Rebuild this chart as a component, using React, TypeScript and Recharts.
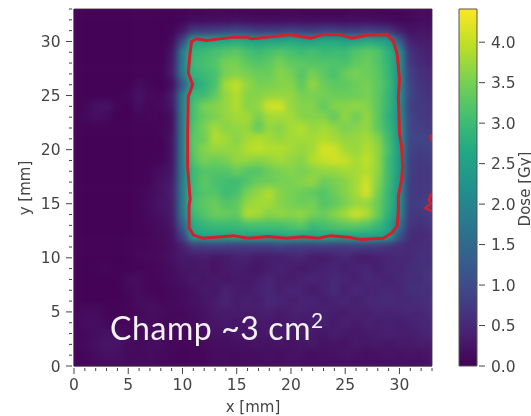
import { BarChart, Bar, XAxis, YAxis, ScatterChart, Scatter, ReferenceArea } from "recharts";

const gridX = [0,1,2,3,4,5,6,7,8,9,10,11,12,13,14,15,16,17,18,19,20,21,22,23,24,25,26,27,28,29,30,31,32,33];
const gridY = [33,32,31,30,29,28,27,26,25,24,23,22,21,20,19,18,17,16,15,14,13,12,11,10,9,8,7,6,5,4,3,2,1,0];

// dose in Gy, one row per gridY entry, top to bottom
const doseRows = [
  [.03,.03,.03,.03,.03,.03,.03,.03,.03,.03,.03,.03,.03,.03,.03,.03,.03,.03,.03,.03,.03,.03,.03,.03,.03,.03,.03,.03,.03,.04,.05,.08,.12,.08],
  [.03,.03,.03,.03,.03,.03,.03,.03,.03,.03,.05,.12,.12,.12,.14,.16,.14,.12,.12,.12,.12,.12,.12,.13,.13,.12,.12,.13,.12,.1,.06,.1,.15,.1],
  [.03,.03,.03,.03,.03,.03,.03,.03,.03,.05,.25,.7,.7,.75,.8,.9,.8,.7,.75,.7,.8,.75,.7,.8,.8,.7,.7,.8,.75,.65,.35,.2,.25,.2],
  [.03,.03,.03,.03,.03,.03,.03,.03,.03,.1,.9,2.55,2.55,2.6,2.65,2.75,2.65,2.55,2.6,2.6,2.7,2.6,2.55,2.7,2.7,2.55,2.55,2.7,2.65,2.5,1.3,.4,.35,.3],
  [.03,.03,.03,.03,.03,.03,.03,.03,.03,.2,1.8,2.9,3.0,3.1,3.2,3.3,3.1,3.0,3.1,3.2,3.1,3.0,3.1,2.95,3.0,3.0,3.2,3.3,3.2,2.8,2.2,.6,.45,.35],
  [.03,.03,.03,.03,.03,.03,.03,.03,.03,.25,1.8,3.0,3.1,3.2,3.5,3.5,3.3,3.2,3.3,3.5,3.3,3.3,3.2,3.2,3.2,3.1,3.3,3.4,3.2,2.9,2.2,.7,.5,.4],
  [.03,.03,.03,.03,.03,.03,.03,.03,.03,.3,1.8,2.9,3.0,3.1,3.5,3.6,3.5,3.4,3.4,3.6,3.5,3.2,3.5,3.3,3.1,3.4,3.5,3.4,3.3,2.9,2.2,.8,.6,.5],
  [.03,.03,.03,.03,.03,.03,.12,.06,.03,.12,1.2,2.6,2.85,3.1,3.8,4.0,3.7,3.5,3.5,3.6,3.6,3.3,3.7,3.4,3.3,3.3,3.4,3.5,3.3,3.0,2.2,.85,.65,.55],
  [.03,.03,.03,.03,.03,.08,.22,.1,.08,.3,1.8,3.0,3.0,3.3,3.7,3.9,3.6,3.6,3.7,3.7,3.7,3.5,3.5,3.5,3.4,3.4,3.4,3.5,3.3,2.9,2.2,.9,.7,.6],
  [.03,.06,.2,.24,.06,.03,.16,.05,.14,.25,1.8,3.1,3.5,3.6,3.7,3.9,3.6,3.7,4.1,4.15,3.7,3.6,3.6,3.3,3.6,3.6,3.7,3.6,3.3,2.9,2.2,.8,.75,.65],
  [.03,.1,.18,.12,.03,.03,.05,.08,.05,.15,1.8,3.1,3.4,3.5,3.7,3.8,3.8,3.5,3.8,3.8,3.8,3.6,3.6,3.6,3.3,3.7,3.4,3.7,3.3,2.8,2.2,.9,.75,.7],
  [.03,.03,.03,.03,.03,.03,.03,.03,.06,.12,1.8,3.2,3.5,3.8,3.6,3.7,3.7,3.3,3.7,3.6,3.8,3.9,3.7,3.8,3.7,3.5,3.6,3.7,3.3,2.9,2.3,.85,.8,.7],
  [.03,.03,.03,.03,.03,.03,.03,.03,.05,.2,1.8,3.3,3.4,3.9,3.8,3.6,3.8,3.9,3.8,3.7,3.8,3.8,3.8,3.9,3.8,3.7,3.7,3.8,3.6,3.0,2.3,.9,.9,.85],
  [.03,.03,.03,.03,.03,.03,.03,.03,.03,.2,1.8,3.3,3.6,3.7,3.7,3.7,3.9,4.0,3.9,3.9,3.8,3.7,3.8,4.15,4.1,3.8,3.7,3.9,3.7,3.1,2.4,.85,.8,.8],
  [.03,.03,.03,.03,.03,.03,.03,.03,.05,.2,1.8,3.2,3.5,3.4,3.5,3.7,3.7,3.6,3.7,3.8,3.7,3.6,3.9,4.0,4.1,4.05,3.8,4.0,3.7,3.0,2.4,.8,.75,.75],
  [.03,.03,.03,.03,.03,.03,.03,.05,.16,.25,1.8,3.0,3.2,3.2,3.2,3.4,3.2,3.2,3.4,3.5,3.6,3.5,3.6,3.7,3.7,3.8,3.8,3.9,3.7,3.0,2.4,.8,.7,.7],
  [.03,.03,.03,.03,.03,.03,.03,.06,.2,.3,1.8,3.0,3.3,3.1,3.05,3.0,3.2,3.4,3.4,3.5,3.5,3.6,3.7,3.4,3.5,3.6,3.8,4.1,3.6,3.0,2.3,.75,.7,.7],
  [.03,.03,.03,.03,.03,.03,.05,.1,.2,.35,1.8,3.0,3.2,3.2,3.0,3.1,3.5,3.7,3.9,3.6,3.5,3.4,3.3,3.2,3.4,3.6,3.8,4.15,3.5,2.9,2.2,.75,.7,.75],
  [.03,.03,.03,.03,.03,.03,.05,.12,.25,.3,1.8,3.1,3.3,3.4,3.2,3.3,3.7,3.8,3.8,3.6,3.5,3.4,3.5,3.2,3.3,3.5,3.7,3.7,3.4,2.9,2.2,.75,.8,.85],
  [.03,.03,.03,.03,.03,.03,.05,.1,.2,.3,1.7,3.0,3.2,3.4,3.4,3.3,3.9,3.8,3.6,3.7,3.6,3.7,3.5,3.4,3.6,3.8,4.1,3.9,3.4,2.8,2.1,.7,.7,.75],
  [.03,.03,.03,.03,.03,.03,.05,.08,.15,.25,1.3,2.7,2.9,3.0,3.0,3.0,3.1,3.1,3.1,3.1,3.2,3.3,3.0,3.1,3.2,3.3,3.3,3.2,3.0,2.6,1.7,.65,.6,.65],
  [.03,.03,.03,.03,.03,.04,.05,.06,.12,.2,.8,2.55,2.6,2.6,2.65,2.7,2.6,2.6,2.65,2.65,2.7,2.6,2.65,2.7,2.65,2.6,2.65,2.6,2.55,2.5,1.2,.55,.5,.55],
  [.03,.03,.03,.03,.03,.05,.05,.06,.1,.18,.35,.7,.7,.75,.7,.7,.7,.75,.7,.8,.7,.75,.7,.75,.7,.7,.75,.7,.7,.6,.55,.5,.55,.55],
  [.03,.03,.03,.03,.03,.04,.08,.08,.12,.2,.3,.3,.35,.25,.3,.4,.4,.3,.35,.35,.4,.45,.35,.3,.4,.5,.35,.3,.4,.45,.5,.5,.6,.55],
  [.03,.03,.05,.1,.04,.04,.05,.06,.1,.15,.25,.25,.3,.2,.3,.35,.3,.25,.35,.4,.35,.3,.35,.4,.45,.35,.4,.45,.35,.5,.45,.55,.6,.6],
  [.03,.03,.03,.03,.03,.14,.14,.06,.08,.15,.2,.3,.25,.3,.25,.3,.3,.35,.45,.35,.3,.4,.45,.4,.5,.45,.35,.5,.45,.4,.5,.55,.55,.65],
  [.03,.03,.03,.03,.03,.1,.12,.06,.06,.1,.15,.2,.3,.25,.4,.35,.3,.4,.5,.35,.45,.4,.3,.4,.55,.35,.5,.4,.45,.5,.45,.6,.6,.55],
  [.03,.03,.03,.03,.03,.06,.12,.12,.08,.1,.12,.2,.25,.3,.45,.3,.4,.35,.5,.45,.35,.4,.45,.35,.4,.5,.35,.45,.5,.55,.5,.5,.55,.6],
  [.03,.12,.12,.06,.03,.06,.08,.15,.14,.1,.1,.15,.2,.3,.3,.35,.3,.35,.4,.3,.35,.4,.35,.4,.35,.3,.4,.35,.45,.4,.45,.5,.45,.55],
  [.03,.18,.18,.1,.06,.08,.12,.12,.1,.1,.12,.12,.2,.25,.3,.25,.3,.3,.3,.25,.35,.3,.35,.4,.3,.4,.3,.4,.35,.4,.35,.4,.45,.45],
  [.05,.1,.15,.22,.18,.1,.1,.12,.14,.1,.1,.1,.15,.2,.2,.3,.25,.25,.3,.3,.25,.3,.3,.25,.35,.3,.25,.3,.35,.4,.35,.35,.4,.45],
  [.05,.1,.2,.25,.25,.12,.1,.15,.16,.1,.08,.1,.12,.15,.15,.2,.2,.25,.2,.25,.2,.25,.3,.2,.25,.2,.3,.25,.3,.25,.3,.3,.35,.3],
  [.03,.08,.15,.2,.2,.12,.1,.12,.1,.08,.06,.08,.08,.12,.15,.12,.15,.15,.2,.15,.2,.2,.15,.2,.2,.25,.2,.15,.2,.25,.2,.25,.2,.25],
  [.03,.05,.08,.1,.1,.08,.08,.08,.06,.06,.05,.06,.06,.08,.1,.1,.1,.12,.12,.12,.15,.12,.15,.12,.15,.15,.12,.15,.15,.15,.18,.15,.15,.18],
];

// 2.5 Gy isodose
const contourX = [10.84,11.3,12.2,14.7,15.9,16.4,17.9,19.9,21.8,23,24.5,25.6,27,28.85,29.45,29.8,30,29.9,30,30.2,30.3,30.2,29.9,29.9,29.8,29.3,28.5,26.4,25.3,23.6,22.5,21.15,19.6,17.9,16.07,14.7,11.9,11,10.6,10.6,10.7,10.47,10.47,10.53,10.93,10.53,10.7];
const contourY = [30,30.25,30.1,30.4,30.4,30.25,30.4,30.65,30.3,30.65,30.65,30.3,30.6,30.65,30,28.8,26.5,24.9,21.55,20.3,18.45,17.2,15.7,14.4,12.96,12.3,11.8,11.7,11.9,12.05,11.8,11.95,11.8,11.97,11.8,12.05,11.8,12.1,12.8,14.8,15.4,18.45,21.55,24.9,26,27.1,29];
const edgeContourX = [33,32.7,32.9,32.4,33];
const edgeContourY = [16,15.4,15,14.6,14.3];
const edgeDotsX = [32.85,33];
const edgeDotsY = [21.4,20.8];

const minorTicks = [0,1,2,3,4,5,6,7,8,9,10,11,12,13,14,15,16,17,18,19,20,21,22,23,24,25,26,27,28,29,30,31,32,33];
const doseTicks = [0,0.5,1,1.5,2,2.5,3,3.5,4];
const doseMax = 4.41;
const isodoseBands = [[2.56,2.6],[3.22,3.32],[3.955,3.985]];

const viridis = ["#440154","#482475","#414487","#355f8d","#2a788e","#21918c","#22a884","#44bf70","#7ad151","#bddf26","#fde725"];

const tickColor = "#444";
const red = "#d3202c";

const hexToRgb = (h: string) => [1, 3, 5].map((i) => parseInt(h.slice(i, i + 2), 16));
function doseColor(d: number) {
  const t = Math.min(d / doseMax, 1) * (viridis.length - 1);
  const i = Math.min(Math.floor(t), viridis.length - 2);
  const a = hexToRgb(viridis[i]);
  const b = hexToRgb(viridis[i + 1]);
  const c = a.map((v, k) => Math.round(v + (b[k] - v) * (t - i)));
  return `rgb(${c[0]},${c[1]},${c[2]})`;
}

const cells = doseRows.flatMap((row, r) => row.map((dose, c) => ({ x: gridX[c], y: gridY[r], dose })));
const toPoints = (xs: number[], ys: number[]) => xs.map((x, i) => ({ x, y: ys[i] }));

const CELL = 11.4;
const DoseCell = (props: any) => (
  <rect x={props.cx - CELL / 2} y={props.cy - CELL / 2} width={CELL} height={CELL} fill={doseColor(props.payload.dose)} />
);

const XTick = ({ x, y, payload }: any) => {
  const major = payload.value % 5 === 0;
  return (
    <g>
      <line x1={x} x2={x} y1={y} y2={y + (major ? 6 : 3)} stroke={tickColor} />
      {major && (
        <text x={x} y={y + 22} textAnchor="middle" fontSize={15.5} fill={tickColor}>
          {payload.value}
        </text>
      )}
    </g>
  );
};

const YTick = ({ x, y, payload }: any) => {
  const major = payload.value % 5 === 0;
  return (
    <g>
      <line x1={x} x2={x - (major ? 6 : 3)} y1={y} y2={y} stroke={tickColor} />
      {major && (
        <text x={x - 11.5} y={y + 5.5} textAnchor="end" fontSize={15.5} fill={tickColor}>
          {payload.value}
        </text>
      )}
    </g>
  );
};

const BarTick = ({ x, y, payload }: any) => (
  <g>
    <line x1={x} x2={x + 6} y1={y} y2={y} stroke={tickColor} />
    <text x={x + 12} y={y + 5.5} fontSize={15.5} fill={tickColor}>
      {payload.value.toFixed(1)}
    </text>
  </g>
);

const font = "'DejaVu Sans', sans-serif";

export default function App() {
  return (
    <div style={{ position: "absolute", left: 0, top: 0, width: 531, height: 416, overflow: "hidden", fontFamily: font, filter: "blur(0.5px)" }}>
      <style>{`.dose-map { filter: blur(3.6px); clip-path: url(#plot-clip); }`}</style>
      <svg width={0} height={0} style={{ position: "absolute" }}>
        <defs>
          <clipPath id="plot-clip">
            <rect x={74} y={9} width={358} height={357} />
          </clipPath>
        </defs>
      </svg>

      <div style={{ position: "absolute", left: 0, top: 0 }}>
        <ScatterChart width={445} height={416} margin={{ top: 9, right: 13, bottom: 0, left: 0 }}>
          <XAxis
            type="number"
            dataKey="x"
            domain={[0, 33]}
            ticks={minorTicks}
            interval={0}
            height={50}
            tickSize={0}
            tickLine={false}
            tick={<XTick />}
            stroke={tickColor}
            allowDataOverflow
            label={{ value: "x [mm]", position: "insideBottom", offset: 4, fill: tickColor, fontSize: 15 }}
          />
          <YAxis
            type="number"
            dataKey="y"
            domain={[0, 33]}
            ticks={minorTicks}
            interval={0}
            width={74}
            tickSize={0}
            tickLine={false}
            tick={<YTick />}
            stroke={tickColor}
            allowDataOverflow
          />
          <Scatter className="dose-map" data={cells} shape={<DoseCell />} isAnimationActive={false} />
          <Scatter data={toPoints(contourX, contourY)} line={{ stroke: red, strokeWidth: 3 }} lineJointType="linearClosed" shape={() => null} isAnimationActive={false} />
          <Scatter data={toPoints(edgeContourX, edgeContourY)} line={{ stroke: red, strokeWidth: 2.5 }} shape={() => null} isAnimationActive={false} />
          <Scatter data={toPoints(edgeDotsX, edgeDotsY)} line={{ stroke: red, strokeWidth: 3 }} shape={() => null} isAnimationActive={false} />
          <ReferenceArea x1={0} x2={33} y1={0} y2={33} fill="none" stroke="#555" />
          <text transform="translate(30,188) rotate(-90)" textAnchor="middle" fontSize={15} fill={tickColor}>
            y [mm]
          </text>
        </ScatterChart>
      </div>

      <svg width={531} height={416} style={{ position: "absolute", left: 0, top: 0, pointerEvents: "none" }}>
        <text x={110} y={340} fontSize={32} letterSpacing={0.6} fill="#f2f2f2" fontFamily="Lato, sans-serif">
          Champ ~3 cm
          <tspan dy={-12} fontSize={21}>2</tspan>
        </text>
      </svg>

      <div style={{ position: "absolute", left: 440, top: 0 }}>
        <BarChart width={91} height={416} data={[{ name: "Dose", value: doseMax }]} margin={{ top: 9, right: 0, bottom: 50, left: 19 }} barCategoryGap={0}>
          <defs>
            <linearGradient id="viridis-bar" x1="0" y1="1" x2="0" y2="0">
              {viridis.map((c, i) => (
                <stop key={c} offset={i / (viridis.length - 1)} stopColor={c} />
              ))}
            </linearGradient>
          </defs>
          <XAxis dataKey="name" hide />
          <YAxis
            orientation="right"
            type="number"
            domain={[0, doseMax]}
            ticks={doseTicks}
            interval={0}
            width={54}
            tickSize={0}
            tickLine={false}
            axisLine={false}
            tick={<BarTick />}
          />
          <Bar dataKey="value" fill="url(#viridis-bar)" stroke="#555" isAnimationActive={false} />
          {isodoseBands.map(([a, b]) => (
            <ReferenceArea key={a} y1={a} y2={b} fill="#f01010" fillOpacity={1} stroke="none" />
          ))}
          <text transform="translate(90,189) rotate(-90)" textAnchor="middle" fontSize={15} fill={tickColor}>
            Dose [Gy]
          </text>
        </BarChart>
      </div>
    </div>
  );
}
